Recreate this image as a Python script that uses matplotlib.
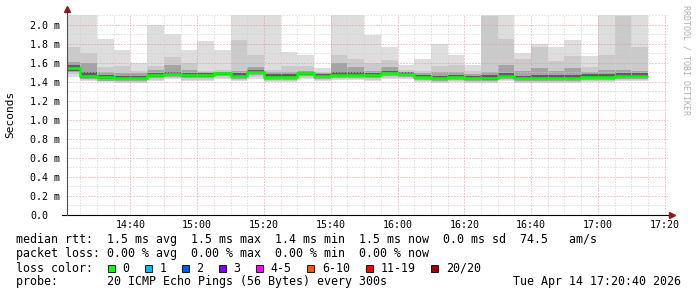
import matplotlib
matplotlib.use("Agg")
import matplotlib.pyplot as plt
import numpy as np
from matplotlib.patches import Rectangle

# one bar per 5 minute step, start time in minutes after 14:00
bar_start = list(range(20, 195, 5))

# sorted ping times per step (ms): outer pings, inner pings and the median
ping_max = [2.12, 2.12, 1.85, 1.74, 1.60, 2.00, 1.905, 1.74, 1.83, 1.74, 2.12, 2.12, 2.12, 1.72, 1.68, 1.545, 2.12, 2.12,
            1.89, 1.77, 1.58, 1.64, 1.80, 1.68, 1.58, 2.12, 2.12, 1.71, 1.80, 1.77, 1.84, 1.67, 2.12, 2.12, 2.12]
ping_19 = [1.77, 1.70, 1.56, 1.57, 1.52, 1.57, 1.66, 1.60, 1.52, 1.53, 1.84, 1.68, 1.53, 1.57, 1.57, 1.51, 1.68, 1.64,
           1.60, 1.63, 1.53, 1.52, 1.57, 1.58, 1.52, 2.09, 1.85, 1.64, 1.77, 1.62, 1.67, 1.56, 1.68, 2.09, 1.77]
ping_17 = [1.61, 1.60, 1.51, 1.49, 1.49, 1.53, 1.58, 1.53, 1.50, 1.51, 1.52, 1.56, 1.50, 1.50, 1.52, 1.49, 1.60, 1.56,
           1.52, 1.56, 1.51, 1.49, 1.50, 1.50, 1.48, 1.50, 1.58, 1.52, 1.55, 1.52, 1.55, 1.50, 1.53, 1.53, 1.52]
ping_14 = [1.58, 1.50, 1.47, 1.465, 1.46, 1.49, 1.51, 1.49, 1.49, 1.51, 1.49, 1.53, 1.48, 1.48, 1.51, 1.48, 1.50, 1.50,
           1.49, 1.52, 1.50, 1.475, 1.465, 1.475, 1.465, 1.47, 1.49, 1.465, 1.47, 1.47, 1.47, 1.48, 1.48, 1.49, 1.49]
median = [1.545, 1.463, 1.450, 1.445, 1.445, 1.470, 1.484, 1.470, 1.470, 1.490, 1.466, 1.510, 1.456, 1.456, 1.490,
          1.463, 1.474, 1.474, 1.470, 1.498, 1.484, 1.456, 1.445, 1.456, 1.445, 1.440, 1.463, 1.445, 1.445, 1.445,
          1.445, 1.456, 1.456, 1.463, 1.463]
ping_7 = [1.52, 1.445, 1.43, 1.43, 1.43, 1.455, 1.47, 1.455, 1.455, 1.475, 1.45, 1.49, 1.44, 1.44, 1.475, 1.45, 1.46,
          1.46, 1.455, 1.48, 1.47, 1.44, 1.43, 1.44, 1.43, 1.425, 1.45, 1.43, 1.43, 1.43, 1.43, 1.44, 1.44, 1.45, 1.45]
ping_4 = [1.50, 1.43, 1.415, 1.41, 1.41, 1.44, 1.455, 1.44, 1.44, 1.46, 1.435, 1.47, 1.425, 1.425, 1.46, 1.435, 1.445,
          1.445, 1.44, 1.46, 1.455, 1.425, 1.415, 1.425, 1.415, 1.41, 1.435, 1.415, 1.415, 1.415, 1.415, 1.425, 1.425,
          1.435, 1.435]
ping_2 = [1.48, 1.42, 1.405, 1.40, 1.395, 1.425, 1.44, 1.425, 1.425, 1.445, 1.42, 1.45, 1.41, 1.41, 1.445, 1.42, 1.43,
          1.43, 1.425, 1.445, 1.44, 1.41, 1.40, 1.41, 1.40, 1.40, 1.42, 1.40, 1.40, 1.40, 1.40, 1.41, 1.41, 1.42, 1.42]
ping_min = [1.45, 1.41, 1.395, 1.39, 1.385, 1.415, 1.43, 1.41, 1.41, 1.43, 1.41, 1.43, 1.40, 1.40, 1.43, 1.41, 1.42,
            1.42, 1.41, 1.43, 1.43, 1.40, 1.39, 1.40, 1.39, 1.39, 1.41, 1.39, 1.39, 1.39, 1.39, 1.40, 1.40, 1.41, 1.41]

x_ticks = [40, 60, 80, 100, 120, 140, 160, 180, 200]
x_labels = ["14:40", "15:00", "15:20", "15:40", "16:00", "16:20", "16:40", "17:00", "17:20"]
y_ticks = [0.0, 0.2, 0.4, 0.6, 0.8, 1.0, 1.2, 1.4, 1.6, 1.8, 2.0]
y_labels = ["0.0", "0.2 m", "0.4 m", "0.6 m", "0.8 m", "1.0 m", "1.2 m", "1.4 m", "1.6 m", "1.8 m", "2.0 m"]

loss_labels = ["0", "1", "2", "3", "4-5", "6-10", "11-19", "20/20"]
loss_colors = ["#00ff00", "#00b8ff", "#0059ff", "#7e00ff", "#ff00ff", "#ff5500", "#ff0000", "#a10000"]

W, H = 697, 297
fig = plt.figure(figsize=(W / 100, H / 100), dpi=100)
ax = fig.add_axes([67 / W, 1 - 215 / H, 601 / W, 200.5 / H])
mono = "DejaVu Sans Mono"

edges = np.array(bar_start + [bar_start[-1] + 5])
bands = [(ping_min, ping_max, "#dddddd"), (ping_2, ping_19, "#cacaca"),
         (ping_4, ping_17, "#a4a4a4"), (ping_7, ping_14, "#5e5e5e")]
for lo, hi, col in bands:
    ax.stairs(hi, edges, baseline=lo, fill=True, color=col, lw=0, zorder=1)
ax.stairs(median, edges, baseline=None, color="#00ff00", lw=1.8, zorder=4)

ax.set_xlim(21, 201)
ax.set_ylim(0, 2.11)
ax.set_xticks(x_ticks)
ax.set_xticklabels(x_labels, fontfamily=mono, fontsize=7.2)
ax.set_xticks(np.arange(25, 201, 5), minor=True)
ax.set_yticks(y_ticks)
ax.set_yticklabels(y_labels, fontfamily=mono, fontsize=7.2, ha="left")
ax.set_yticks(np.arange(0.1, 2.11, 0.2), minor=True)
ax.tick_params(axis="y", which="both", length=0, pad=26.6)
ax.tick_params(axis="x", which="both", length=0, pad=3.5)

ax.set_axisbelow(False)
ax.grid(which="minor", color="#d0d0d0", ls=(0, (1, 2)), lw=0.72)
ax.grid(which="major", color="#e59a9a", ls=(0, (1, 2)), lw=0.72)
for s in ax.spines.values():
    s.set_visible(False)

# axes with arrow heads
ax.plot([-5 / 601, 1.005], [0, 0], transform=ax.get_yaxis_transform(), clip_on=False,
        color="black", lw=0.8, zorder=5)
ax.plot([0, 0], [0, 1.02], transform=ax.transAxes, clip_on=False, color="#505050", lw=0.8, zorder=5)
ax.plot([0], [1.025], marker="^", ms=4.5, color="#8b1a1a", transform=ax.transAxes, clip_on=False, zorder=6)
ax.plot([1.006], [0], marker=">", ms=4.5, color="#8b1a1a", transform=ax.get_yaxis_transform(),
        clip_on=False, zorder=6)

fig.text(10 / W, 1 - 114 / H, "Seconds", rotation=90, ha="center", va="center", fontfamily=mono, fontsize=8)
fig.text(686 / W, 1 - 5 / H, "RRDTOOL / TOBI OETIKER", rotation=270, ha="center", va="top",
         fontfamily=mono, fontsize=6, color="#b0b0b0")

cw = 7.14  # character cell width in pixels
fs = 8.4
lines = [
    "median rtt:  1.5 ms avg  1.5 ms max  1.4 ms min  1.5 ms now  0.0 ms sd  74.5   am/s",
    "packet loss: 0.00 % avg  0.00 % max  0.00 % min  0.00 % now",
    "loss color:",
    "probe:       20 ICMP Echo Pings (56 Bytes) every 300s",
]
for i, txt in enumerate(lines):
    fig.text(16 / W, 1 - (240 + 14 * i) / H, txt, ha="left", va="center", fontfamily=mono, fontsize=fs)
fig.text(513 / W, 1 - 282 / H, "Tue Apr 14 17:20:40 2026", ha="left", va="center", fontfamily=mono, fontsize=fs)

x = 108
for lab, col in zip(loss_labels, loss_colors):
    fig.patches.append(Rectangle((x / W, 1 - 272 / H), 7 / W, 7 / H, transform=fig.transFigure,
                                 facecolor=col, edgecolor="black", lw=0.6))
    fig.text((x + 14.5) / W, 1 - 268 / H, lab, ha="left", va="center", fontfamily=mono, fontsize=fs)
    x += 15.6 + cw * (len(lab) + 2)

fig.savefig("out.png", dpi=100)
